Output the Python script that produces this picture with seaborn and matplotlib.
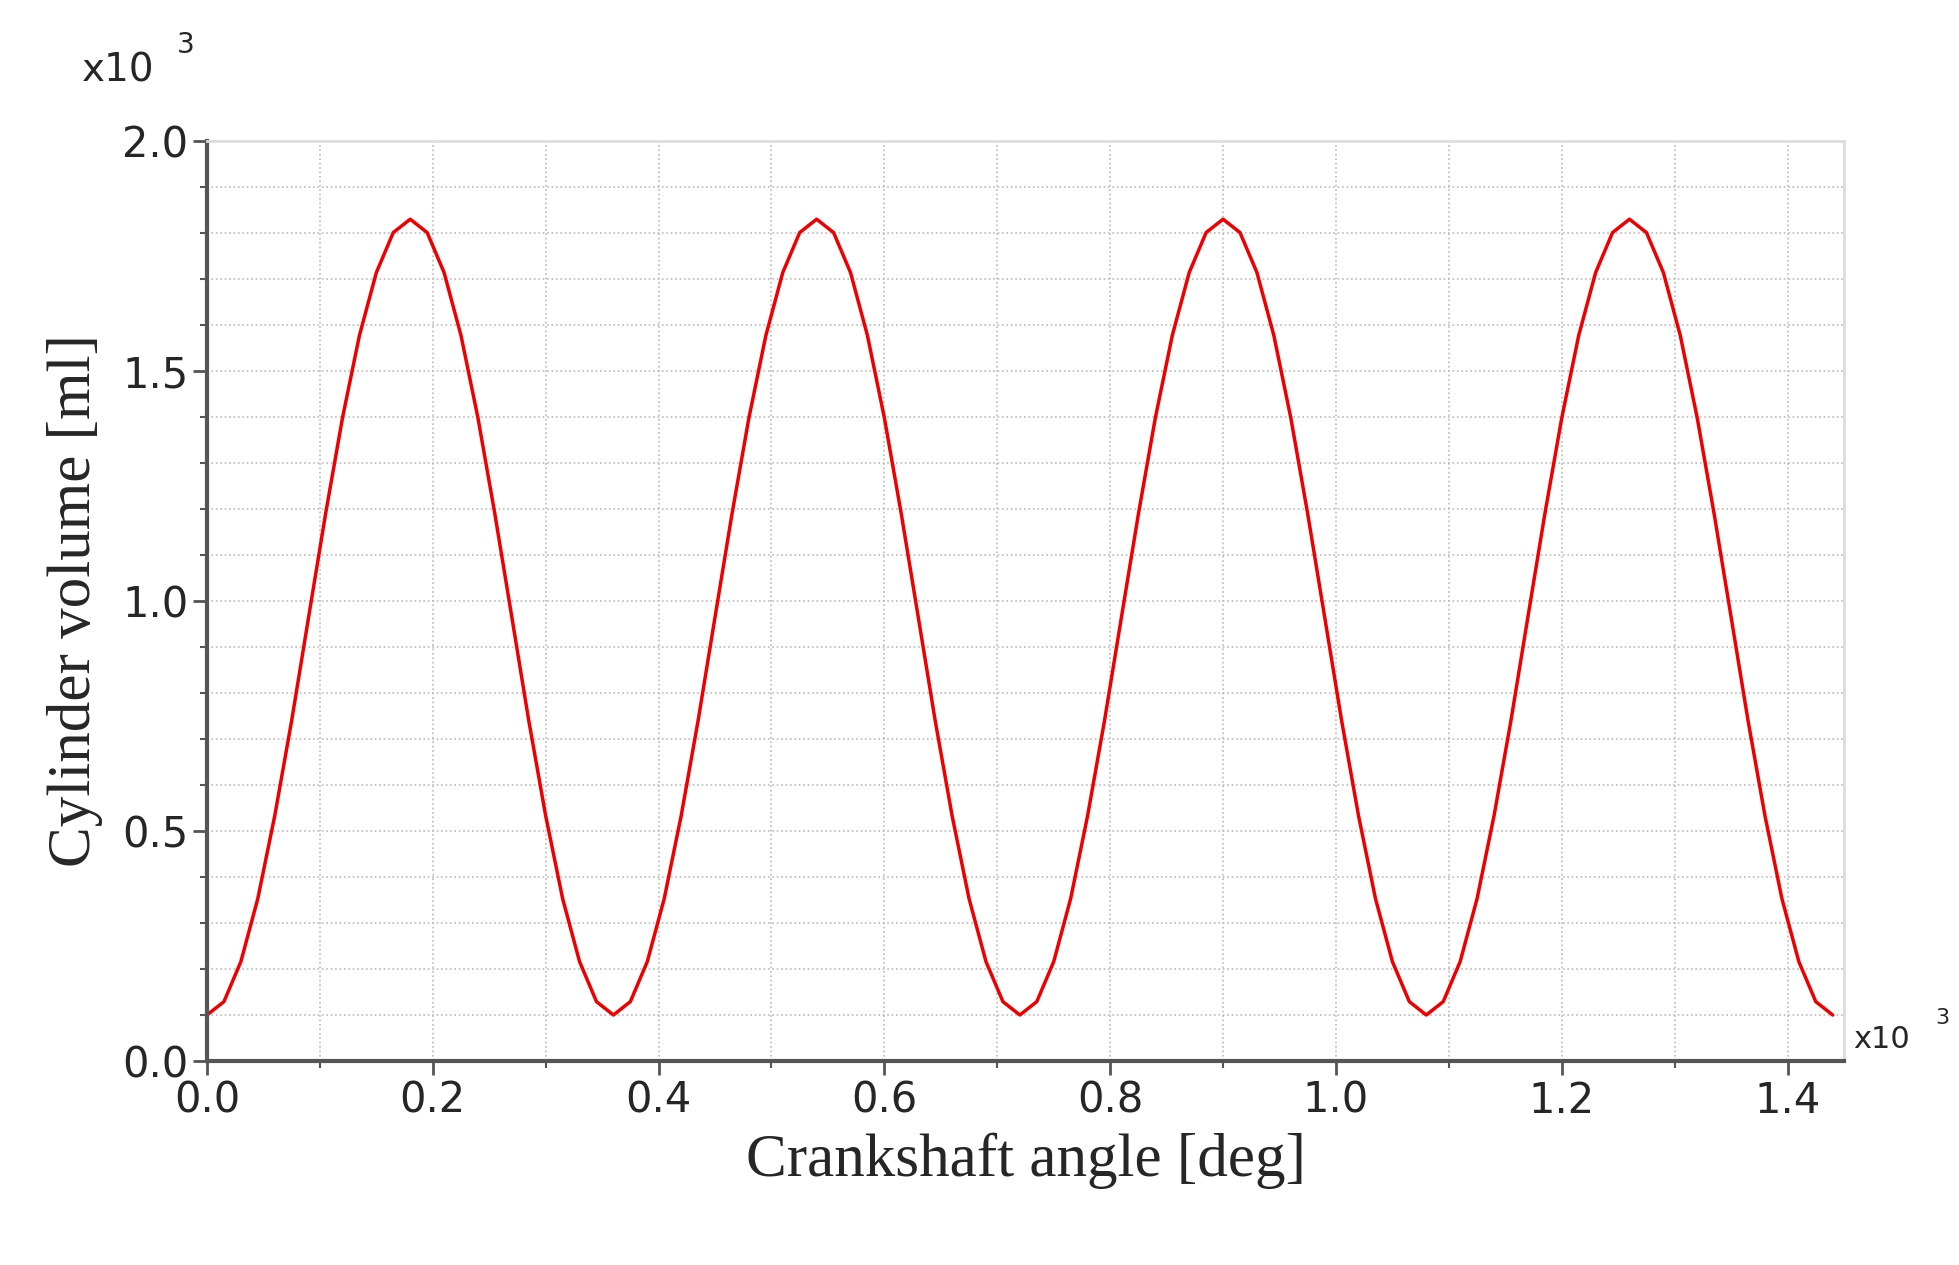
import numpy as np
import matplotlib
matplotlib.use("Agg")
import matplotlib.pyplot as plt
import seaborn as sns
import pandas as pd
from matplotlib.ticker import MultipleLocator

# Crankshaft angle in x10^3 deg, volume in x10^3 ml (read every 15 deg)
cycle_vol = [0.100, 0.129, 0.216, 0.353, 0.533, 0.740, 0.965, 1.189, 1.398, 1.577, 1.714, 1.801, 1.830,
             1.801, 1.714, 1.577, 1.398, 1.189, 0.965, 0.740, 0.533, 0.353, 0.216, 0.129]
volume = cycle_vol * 4 + [0.100]
angle = [i * 0.015 for i in range(len(volume))]
df = pd.DataFrame({"angle": angle, "volume": volume})

sns.set_theme(style="white")
fig = plt.figure(figsize=(19.59, 12.65), dpi=100)
ax = fig.add_axes([207/1959, 1 - 1061/1265, (1844-207)/1959, (1061-141)/1265])

sns.lineplot(data=df, x="angle", y="volume", color="#ee0000", linewidth=2.5, ax=ax)

ax.set_xlim(0, 1.45)
ax.set_ylim(0, 2.0)
ax.xaxis.set_major_locator(MultipleLocator(0.2))
ax.xaxis.set_minor_locator(MultipleLocator(0.1))
ax.yaxis.set_major_locator(MultipleLocator(0.5))
ax.yaxis.set_minor_locator(MultipleLocator(0.1))
ax.set_xticklabels([f"{v:.1f}" for v in ax.get_xticks()])
ax.set_yticks([0, 0.5, 1.0, 1.5, 2.0])
ax.set_yticklabels(["0.0", "0.5", "1.0", "1.5", "2.0"])
ax.set_xticks(np.arange(0, 1.41, 0.2))
ax.set_xticklabels([f"{v:.1f}" for v in np.arange(0, 1.41, 0.2)])
ax.grid(True, which="both", linestyle=":", color="#bbbbbb", linewidth=1.2)
ax.tick_params(axis="both", which="major", labelsize=30, length=10, width=2, direction="out",
               color="#555555", bottom=True, left=True)
ax.tick_params(axis="both", which="minor", length=5, width=1.5, direction="out",
               color="#555555", bottom=True, left=True)
for s in ["left", "bottom"]:
    ax.spines[s].set_color("#555555")
    ax.spines[s].set_linewidth(3)
for s in ["top", "right"]:
    ax.spines[s].set_color("#dddddd")
    ax.spines[s].set_linewidth(2)

serif = "Liberation Serif"
ax.set_xlabel("Crankshaft angle [deg]", fontsize=44, family=serif, labelpad=8)
ax.set_ylabel("Cylinder volume [ml]", fontsize=44, family=serif, labelpad=14)
fig.text(82/1959, 1 - 70/1265, "x10", fontsize=28, va="center")
fig.text(177/1959, 1 - 45/1265, "3", fontsize=20, va="center")
fig.text(1853/1959, 1 - 1040/1265, "x10", fontsize=22, va="center")
fig.text(1935/1959, 1 - 1018/1265, "3", fontsize=16, va="center")

fig.savefig("out.png", dpi=100, facecolor="white")
